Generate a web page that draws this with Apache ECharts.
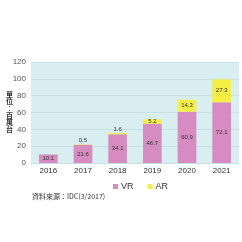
<!DOCTYPE html>
<html>
<head>
<meta charset="utf-8">
<script src="https://cdn.jsdelivr.net/npm/echarts@6/dist/echarts.min.js"></script>
<style>
  html, body { margin: 0; padding: 0; background: #fff; }
  #chart { width: 242px; height: 242px; }
</style>
</head>
<body>
<div id="chart"></div>
<script>
var years = ["2016", "2017", "2018", "2019", "2020", "2021"];
var vr = [10.1, 21.6, 34.1, 46.7, 60.9, 72.1];
var ar = [null, 0.5, 1.6, 5.2, 14.3, 27.3];
var yTicks = [0, 20, 40, 60, 80, 100, 120];
var unitTitle = "單位︰百萬台";

var myChart = echarts.init(document.getElementById("chart"));

var font = "Liberation Sans, Arial, sans-serif";
var cjk = "Noto Sans CJK TC";

// vertical title, one glyph per line
var titleGlyphs = unitTitle.split("").map(function (ch, i) {
  return {
    type: "text", left: 6, top: 91 + i * 7,
    style: {
      text: ch, fontSize: 7, fontWeight: "bold",
      fontFamily: cjk, fill: "#333"
    }
  };
});

var option = {
  animation: false,
  textStyle: { fontFamily: font },
  grid: {
    left: 31, right: 3, top: 62, bottom: 79,
    show: true, backgroundColor: "#d9eef0", borderWidth: 0
  },
  legend: {
    data: ["VR", "AR"],
    top: 177, left: 108,
    itemWidth: 5, itemHeight: 5, itemGap: 14,
    icon: "rect",
    textStyle: { fontSize: 9, color: "#333", padding: [0, 0, 0, -2] }
  },
  xAxis: {
    type: "category",
    data: years,
    axisLine: { show: false },
    axisTick: { show: false },
    axisLabel: { fontSize: 8, color: "#333", margin: 4 }
  },
  yAxis: {
    type: "value",
    min: yTicks[0], max: yTicks[yTicks.length - 1], interval: 20,
    axisLine: { show: false },
    axisTick: { show: false },
    axisLabel: { fontSize: 8, color: "#555", margin: 5 },
    splitLine: { lineStyle: { color: "#c6e0e3", width: 1 } }
  },
  series: [
    {
      name: "VR", type: "bar", stack: "t",
      barCategoryGap: "46%",
      itemStyle: { color: "#d68cc0" },
      label: { show: true, position: "inside", fontSize: 6, color: "#333" },
      data: vr
    },
    {
      name: "AR", type: "bar", stack: "t",
      itemStyle: { color: "#f4ef45" },
      label: { show: true, fontSize: 6, color: "#333" },
      data: ar.map(function (v) {
        return { value: v, label: { position: v !== null && v < 3 ? "top" : "inside", distance: 1 } };
      })
    }
  ],
  graphic: titleGlyphs.concat([
    {
      type: "text", left: 32, top: 193,
      style: {
        text: "資料來源：IDC(3/2017)",
        fontSize: 7, fontFamily: cjk, fill: "#333"
      }
    }
  ])
};

myChart.setOption(option);
</script>
</body>
</html>
